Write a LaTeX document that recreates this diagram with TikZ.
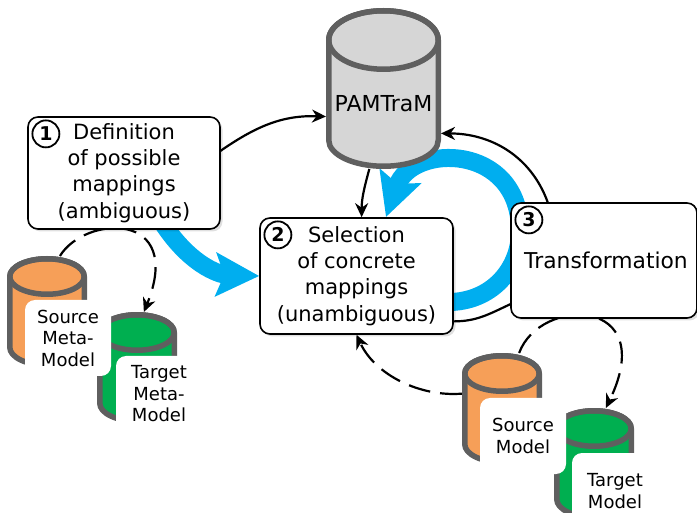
\documentclass[tikz,border=0pt]{standalone}
\usepackage{fontspec}
\setmainfont{DejaVu Sans}
\usetikzlibrary{arrows.meta,positioning,shadows,backgrounds}
\definecolor{cylgrey}{HTML}{5F5F5F}
\definecolor{cylfill}{HTML}{D6D6D6}
\definecolor{srcorange}{HTML}{F69F58}
\definecolor{tgtgreen}{HTML}{00AF50}
\definecolor{flowblue}{HTML}{00AEEF}
\tikzset{
    stepbox/.style={
        draw, rectangle, rounded corners=10pt, fill=white, line width=1.6pt,
        align=center, font=\fontsize{21}{26.3}\selectfont, inner sep=0pt,
        drop shadow={shadow xshift=2.5pt, shadow yshift=-2.5pt, fill=black, opacity=.12}
    },
    stepnum/.style={
        draw, circle, fill=white, line width=1.8pt, minimum size=27pt,
        inner sep=0pt, font=\fontsize{19}{19}\bfseries\selectfont
    },
    storebody/.style={draw=cylgrey, line width=5.5pt, line join=round},
    storelabel/.style={
        fill=white, rounded corners=10pt, minimum width=86pt, minimum height=76pt,
        inner sep=0pt, align=center, font=\fontsize{18}{21.5}\selectfont
    },
    connect/.style={-{Stealth[length=14pt,width=13pt,inset=4.5pt]}, line width=2.2pt},
    dashconnect/.style={connect, dash pattern=on 22pt off 10pt},
    flow/.style={draw=flowblue, line width=18pt, -{Stealth[length=43pt,width=43pt,inset=8pt]}}
}
% name, centre, half width, half height, top radius, bottom radius, fill, text
\newcommand{\storecyl}[8]{
	\begin{scope}[shift={(#2)}]
		\draw[storebody, fill=#7] (-#3,#4-#5) -- (-#3,-#4+#6)
			arc[start angle=180, end angle=360, x radius=#3, y radius=#6]
			-- (#3,#4-#5) arc[start angle=0, end angle=180, x radius=#3, y radius=#5] -- cycle;
		\draw[storebody] (0,#4-#5) ellipse[x radius=#3, y radius=#5];
	\end{scope}
	\node[minimum width=2*#3pt+5.5pt, minimum height=2*#4pt+5.5pt, inner sep=0pt, outer sep=0pt,
	      font=\fontsize{22}{26}\selectfont] (#1) at (#2) {\raisebox{-23pt}[0pt][0pt]{#8}};
}
\begin{document}
\begin{tikzpicture}[x=1pt,y=1pt]
	\useasboundingbox (0,0) rectangle (697,-513);

	\storecyl{pam}{383.5,-88.5}{54.75}{77.75}{29.25}{26}{cylfill}{PAMTraM}
	\storecyl{srcmeta}{47,-312}{37.25}{53.25}{17.75}{18}{srcorange}{}
	\storecyl{tgtmeta}{137,-368}{37.25}{53.25}{17.75}{18}{tgtgreen}{}
	\storecyl{srcmodel}{502,-409}{37.25}{53.25}{17.75}{18}{srcorange}{}
	\storecyl{tgtmodel}{594,-464}{37.25}{53.25}{17.75}{18}{tgtgreen}{}

	\node[storelabel] (srcmetalabel) at (68,-338) {Source\\Meta-\\Model};
	\node[storelabel] (tgtmetalabel) at (159,-394) {Target\\Meta-\\Model};
	\node[storelabel] (srcmodellabel) at (523,-436) {Source\\Model};
	\node[storelabel] (tgtmodellabel) at (615,-491) {Target\\Model};

	\node[stepbox, minimum width=192pt, minimum height=112pt] (box1) at (124,-173)
		{Definition\\of possible\\mappings\\(ambiguous)};
	\node[stepbox, minimum width=193pt, minimum height=116pt] (box2) at (356.5,-276)
		{Selection\\of concrete\\mappings\\(unambiguous)};
	\node[stepbox, minimum width=186pt, minimum height=115pt,
	      font=\fontsize{21.8}{26}\selectfont] (box3) at (604,-260.5)
		{\hspace*{4pt}Transformation};

	\node[stepnum, below right=7.5pt and 8.5pt of box1.north west] (num1) {1};
	\node[stepnum, below right=7.5pt and 8.5pt of box2.north west] (num2) {2};
	\node[stepnum, below right=7.5pt and 8.5pt of box3.north west] (num3) {3};

	\coordinate (bluebend) at (520,-231);
	\coordinate (bluetip) at (386,-217);

	\begin{scope}[on background layer]
		% blue flows
		\draw[flow, shorten <=-12pt] (box1.-53) to[out=-58, in=178] (box2.west);
		\draw[draw=flowblue, line width=18pt, shorten <=-6pt] (box2.-15) to[out=0, in=-90] (bluebend);
		\draw[flow] (bluebend) .. controls (520,-143) and (412,-143) .. (bluetip);

		% solid connectors
		\draw[connect, shorten <=-3pt] (box1.13) to[out=35, in=178] (pam.206);
		\draw[connect] (pam.260) to[out=255, in=90] (box2.85);
		\draw[connect] (box3.134) to[out=110, in=0] (pam.-38);
		\draw[line width=2.2pt] (box2.-25) to[out=0, in=205] (box3.205);

		% dashed connectors
		\draw[dashconnect] (srcmeta.77) .. controls (85,-215) and (185,-210) .. (tgtmeta.83);
		\draw[dashconnect] (srcmodel.159) .. controls (420,-397) and (375,-375) .. (box2.south);
		\draw[dashconnect] (srcmodel.73) .. controls (540,-296) and (660,-296) .. (tgtmodel.78);
	\end{scope}
\end{tikzpicture}
\end{document}
